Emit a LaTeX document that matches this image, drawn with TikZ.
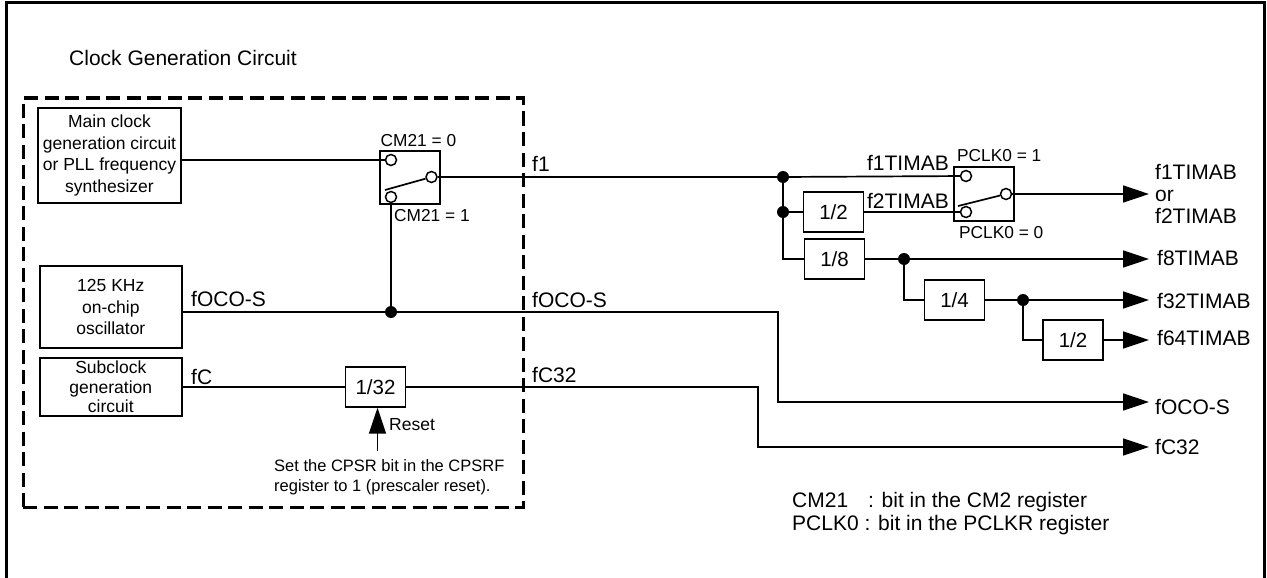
\documentclass[tikz,border=0pt]{standalone}
\usepackage{fontspec}
\setmainfont{Liberation Sans}
\usepackage{tikz}
\usetikzlibrary{positioning,arrows.meta,calc}

\begin{document}
\begin{tikzpicture}[
  x=1pt,
  y=-1pt,
  box/.style={
    rectangle,
    draw,
    line width=1.4pt,
    fill=white,
    inner sep=0pt,
    align=center,
    font=\fontsize{17.5}{21.5}\selectfont
  },
  divider/.style={box,minimum width=60pt,minimum height=40pt,font=\fontsize{20.5}{20}\selectfont},
  contact/.style={circle,draw,line width=1.5pt,fill=white,inner sep=0pt,minimum size=11pt},
  dot/.style={circle,fill=black,inner sep=0pt,minimum size=12pt},
  edge/.style={draw=black,line width=1.7pt},
  outarrow/.style={edge,-{Triangle[length=26pt,width=17pt]}},
  sig/.style={inner sep=0pt,anchor=west,font=\fontsize{21}{24}\selectfont},
  small/.style={inner sep=0pt,anchor=west,font=\fontsize{17.3}{19.5}\selectfont}
]
  \useasboundingbox (0,0) rectangle (1267,578);
  \draw[line width=3pt] (6,578)--(6,3)--(1264,3)--(1264,578);

  \node[small,font=\fontsize{21}{24}\selectfont] (title) at (69,58) {Clock Generation Circuit};
  \node[draw,dashed,line width=3pt,dash pattern=on 14pt off 6.5pt,inner sep=0pt,minimum width=500pt,minimum height=409pt] (circuit) at (273,302.5) {};

  \node[box,minimum width=143pt,minimum height=95pt] (mainclk) at (109.5,155.5) {Main clock\\generation circuit\\or PLL frequency\\synthesizer};
  \node[box,minimum width=142pt,minimum height=82pt] (oscclk) at (110.8,307) {125 KHz\\on-chip\\oscillator};
  \node[box,minimum width=142pt,minimum height=58pt,font=\fontsize{17.5}{19.5}\selectfont] (subclk) at (110.8,387) {Subclock\\generation\\circuit};

  \node[box,minimum width=60pt,minimum height=53pt] (swcm) at (410,177.5) {};
  \node[box,minimum width=60pt,minimum height=54pt] (swpclk) at (984,194) {};

  \node[contact] (cma) at (391,160) {};
  \node[contact] (cmb) at (391,197) {};
  \node[contact] (cmc) at (431.5,177) {};
  \node[contact] (pca) at (966,176) {};
  \node[contact] (pcb) at (966,212) {};
  \node[contact] (pcc) at (1006,194) {};

  \node[divider] (div32) at (375.5,387) {1/32};
  \node[divider] (div2a) at (833.5,212) {1/2};
  \node[divider] (div8) at (834.5,259) {1/8};
  \node[divider] (div4) at (954.5,300) {1/4};
  \node[divider] (div2b) at (1073,340) {1/2};

  \node[dot] (jf1) at (783,177) {};
  \node[dot] (jf2) at (783,212) {};
  \node[dot] (jf8) at (904,259) {};
  \node[dot] (jf32) at (1023,300) {};
  \node[dot] (joco) at (391,312) {};

  \coordinate (tf1) at (1149,194);
  \coordinate (tf8) at (1149,259);
  \coordinate (tf32) at (1149,300);
  \coordinate (tf64) at (1149,340);
  \coordinate (toco) at (1149,402);
  \coordinate (tc32) at (1149,447);
  \coordinate (trst) at (377.5,451);

  \draw[edge] (mainclk.east |- cma)--(cma);
  \draw[edge] (cmc)--(jf1);
  \draw[edge] (jf1)--(pca);
  \draw[edge] (jf1)--(jf2);
  \draw[edge] (jf2)--(div2a);
  \draw[edge] (div2a)--(pcb);
  \draw[edge] (jf2)|-(div8);
  \draw[edge] (div8)--(jf8);
  \draw[edge] (jf8)|-(div4);
  \draw[edge] (div4)--(jf32);
  \draw[edge] (jf32)|-(div2b);
  \draw[edge] (cmb)--(joco);
  \draw[edge] (oscclk.east |- joco)--(joco);
  \draw[edge] (subclk)--(div32);

  \draw[outarrow] (pcc)--(tf1);
  \draw[outarrow] (jf8)--(tf8);
  \draw[outarrow] (jf32)--(tf32);
  \draw[outarrow] (div2b)--(tf64);
  \draw[outarrow] (joco)-|(778,402)--(toco);
  \draw[outarrow] (div32)-|(758,447)--(tc32);
  \draw[outarrow] (trst)--(trst |- div32.south);

  \draw[edge] (385,190)--(cmc);
  \draw[edge] (958,206)--(pcc);

  \node[small] (cmzero) at (380.5,141) {CM21 = 0};
  \node[small] (cmone) at (394,216) {CM21 = 1};
  \node[small] (pcone) at (957,156) {PCLK0 = 1};
  \node[small] (pczero) at (959,233) {PCLK0 = 0};

  \node[sig] (lf1) at (532,164) {f1};
  \node[sig] (lfocoa) at (191,299) {fOCO-S};
  \node[sig] (lfocob) at (532,300) {fOCO-S};
  \node[sig] (lfc) at (191,377) {fC};
  \node[sig] (lfc32) at (532,375) {fC32};
  \node[sig,anchor=east] (lf1t) at (949,163) {f1TIMAB};
  \node[sig,anchor=east] (lf2t) at (949,201) {f2TIMAB};

  \node[sig,align=left,font=\fontsize{21}{22}\selectfont] (lout) at (1155,194) {f1TIMAB\\or\\f2TIMAB};
  \node[sig] (lf8) at (1157,258) {f8TIMAB};
  \node[sig] (lf32) at (1157,301) {f32TIMAB};
  \node[sig] (lf64) at (1157,338) {f64TIMAB};
  \node[sig] (lfoco) at (1155,407) {fOCO-S};
  \node[sig] (lc32) at (1155,447) {fC32};

  \node[small,font=\fontsize{17.5}{19}\selectfont] (lrst) at (389,425) {Reset};
  \node[small,align=left,font=\fontsize{16.5}{19.5}\selectfont] (lcpsr) at (274,477) {Set the CPSR bit in the CPSRF\\register to 1 (prescaler reset).};
  \node[small,align=left,font=\fontsize{21}{23}\selectfont] (lnote) at (792,513.5) {CM21\phantom{K}\ : bit in the CM2 register\\PCLK0 : bit in the PCLKR register};
\end{tikzpicture}
\end{document}
